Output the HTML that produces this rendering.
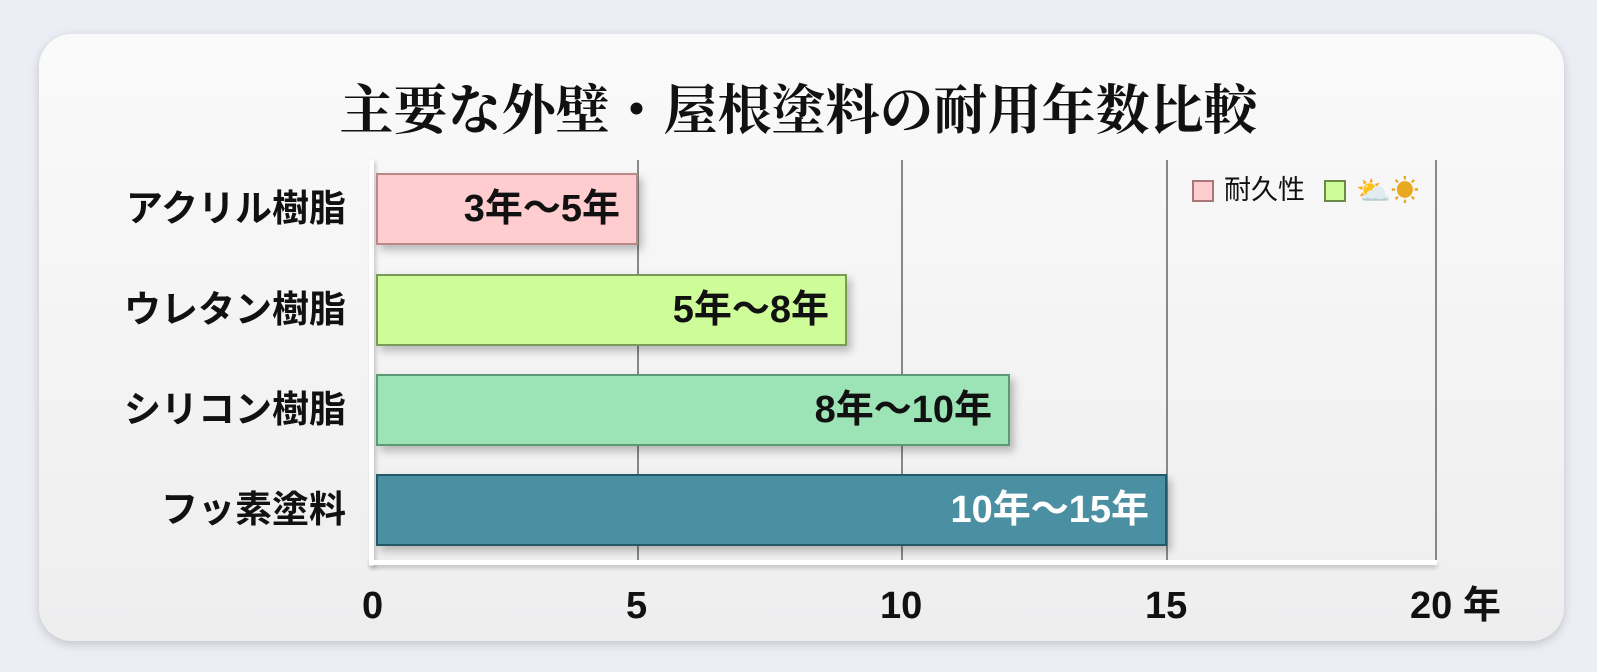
<!DOCTYPE html>
<html><head><meta charset="utf-8"><style>
body{margin:0;width:1597px;height:672px;background:#eceef5;font-family:"Liberation Sans","Noto Sans CJK JP",sans-serif;position:relative;overflow:hidden}
.card{position:absolute;left:39px;top:34px;width:1525px;height:607px;border-radius:33px;background:linear-gradient(180deg,#fafafa,#eeeeef);box-shadow:0 3px 10px rgba(0,0,0,.18)}
.t{position:absolute;left:0;width:1597px;top:76px;text-align:center;font-family:"Liberation Serif","Noto Serif CJK SC",serif;font-weight:bold;font-size:54px;line-height:70px;color:#111}
.g{position:absolute;top:160px;height:401px;width:2px;background:#888}
.bar{position:absolute;left:376px;height:72px;box-sizing:border-box;border:2px solid;box-shadow:4px 5px 8px rgba(0,0,0,.25);text-align:right;font-size:38px;font-weight:bold;line-height:68px;padding-right:16px;color:#111}
.lab{position:absolute;right:1251px;font-size:37px;font-weight:bold;line-height:44px;color:#111;text-align:right;white-space:nowrap}
.n{position:absolute;top:583px;font-size:38px;font-weight:bold;line-height:46px;color:#111}
</style></head><body>
<div class="card"></div>
<div class="t">主要な外壁・屋根塗料の耐用年数比較</div>
<div class="g" style="left:637px"></div>
<div class="g" style="left:901px"></div>
<div class="g" style="left:1166px"></div>
<div class="g" style="left:1435px"></div>
<div style="position:absolute;left:369px;top:160px;width:5px;height:406px;background:#fff;box-shadow:2px 2px 4px rgba(0,0,0,.2)"></div>
<div style="position:absolute;left:369px;top:560px;width:1068px;height:5px;background:#fff;box-shadow:0 3px 4px rgba(0,0,0,.2)"></div>
<div class="bar" style="top:173px;width:262px;background:#ffcdd0;border-color:#b88">3年～5年</div>
<div class="bar" style="top:274px;width:471px;background:#cdfc98;border-color:#7a9a55">5年～8年</div>
<div class="bar" style="top:374px;width:634px;background:#9ce3b6;border-color:#5a9a75">8年～10年</div>
<div class="bar" style="top:474px;width:791px;background:#4a90a2;border-color:#235a68;color:#fff">10年～15年</div>
<div class="lab" style="top:187px">アクリル樹脂</div>
<div class="lab" style="top:288px">ウレタン樹脂</div>
<div class="lab" style="top:388px">シリコン樹脂</div>
<div class="lab" style="top:488px">フッ素塗料</div>
<div class="n" style="left:362px">0</div>
<div class="n" style="left:626px">5</div>
<div class="n" style="left:880px">10</div>
<div class="n" style="left:1145px">15</div>
<div class="n" style="left:1410px">20 年</div>
<div style="position:absolute;left:1192px;top:180px;width:22px;height:22px;background:#ffcdd0;border:2px solid #a77;box-sizing:border-box"></div>
<div style="position:absolute;left:1224px;top:174px;font-size:27px;line-height:32px;color:#111">耐久性</div>
<div style="position:absolute;left:1324px;top:180px;width:22px;height:22px;background:#cdfc98;border:2px solid #6a8a45;box-sizing:border-box"></div>
<div style="position:absolute;left:1356px;top:174px;font-size:28px;line-height:34px;color:#e8a820">⛅☀</div>
</body></html>
